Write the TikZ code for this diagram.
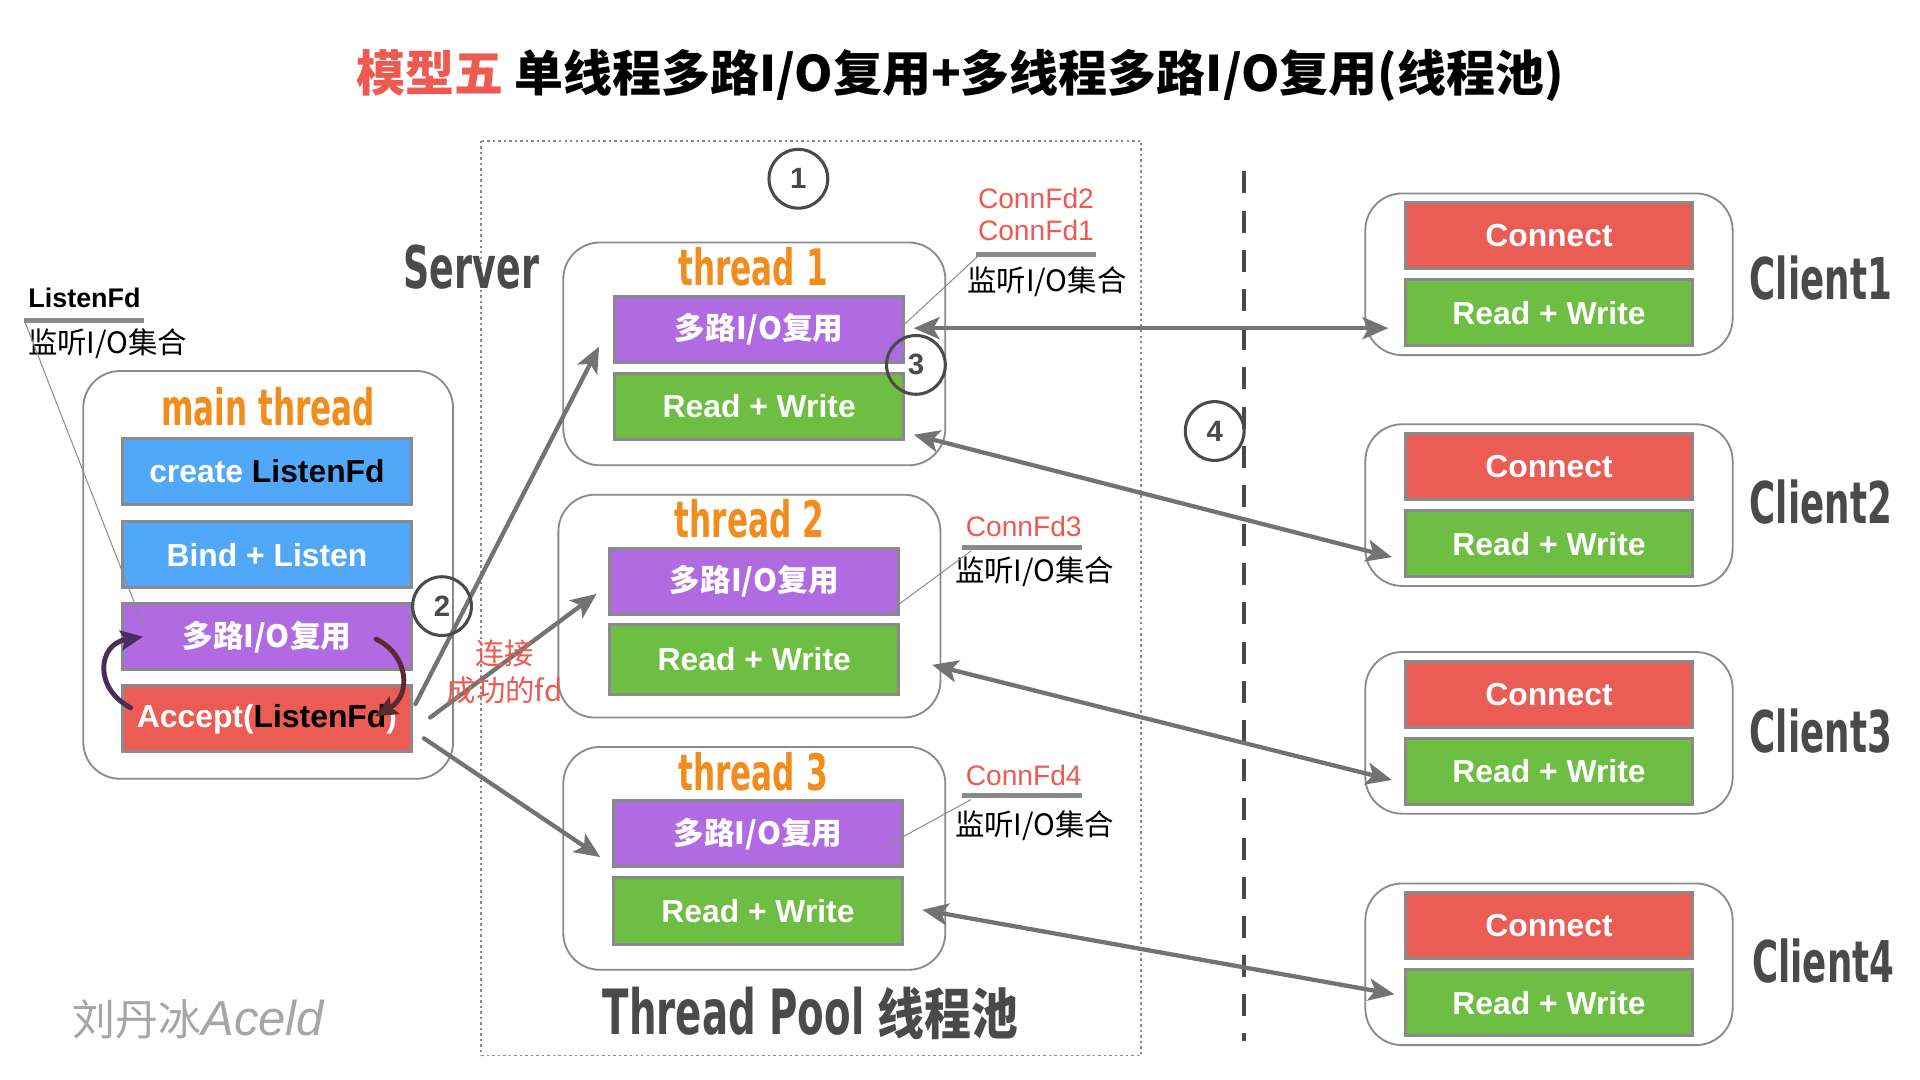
\documentclass[tikz,border=0pt]{standalone}
\usepackage{fontspec}
\setmainfont{Liberation Sans}
\newfontfamily\cjk{Noto Sans CJK SC}
\newfontfamily\hand{DejaVu Sans}[FakeStretch=0.62]
\newfontfamily\handcjk{Noto Sans CJK SC}[FakeStretch=0.85]
\usetikzlibrary{arrows.meta,calc}
\definecolor{cblue}{HTML}{52A8F8}
\definecolor{cpurple}{HTML}{B06AE2}
\definecolor{cred}{HTML}{EB5C55}
\definecolor{cgreen}{HTML}{6EBE44}
\definecolor{corange}{HTML}{F28C1C}
\definecolor{tred}{HTML}{EC5A52}
\definecolor{bgrey}{HTML}{8A8A8A}
\definecolor{agrey}{HTML}{737373}
\definecolor{dgrey}{HTML}{4A4A4A}
\definecolor{curvecol}{HTML}{4A2D5C}
\definecolor{curvecolb}{HTML}{5A2A30}
\tikzset{
  cont/.style={draw=bgrey, line width=1.5pt, rounded corners=30pt, inner sep=0pt},
  box/.style={draw=bgrey, line width=2.5pt, minimum width=236pt, minimum height=54pt, inner sep=0pt, text=white, font=\bfseries\fontsize{26}{30}\selectfont},
  cjkbox/.style={box, fill=cpurple, font=\cjk\bfseries\fontsize{25}{28}\selectfont},
  rwbox/.style={box, fill=cgreen},
  num/.style={circle, draw=dgrey, line width=2.5pt, minimum size=48pt, inner sep=0pt, text=dgrey, font=\bfseries\fontsize{24}{24}\selectfont},
  garrow/.style={draw=agrey, line width=3.5pt, line cap=round, -{Stealth[length=21pt,width=18pt,inset=5pt]}},
  darrow/.style={draw=agrey, line width=3.5pt, {Stealth[length=21pt,width=18pt,inset=5pt]}-{Stealth[length=21pt,width=18pt,inset=5pt]}},
  leader/.style={draw=bgrey, line width=0.8pt},
  fdbar/.style={draw=bgrey, line width=4pt},
  handlbl/.style={font=\hand\bfseries\fontsize{41}{42}\selectfont, text=corange, inner sep=0pt},
  clientlbl/.style={font=\hand\bfseries\fontsize{47}{48}\selectfont, text=dgrey, inner sep=0pt},
  fdtxt/.style={font=\fontsize{23}{26}\selectfont, text=tred, inner sep=0pt},
  settxt/.style={font=\cjk\fontsize{24}{26}\selectfont, text=black, inner sep=0pt},
}
\begin{document}
\begin{tikzpicture}[x=1pt,y=-1pt]
\fill[white] (0,0) rectangle (1568,882);
\useasboundingbox (0,0) rectangle (1568,882);

% title
\node[inner sep=0pt, font=\cjk\bfseries\fontsize{40}{44}\selectfont] (title) at (784,62) {\textcolor{tred}{模型五} 单线程多路I/O复用+多线程多路I/O复用(线程池)};

% thread pool region and separator
\draw[bgrey, line width=1.3pt, dash pattern=on 2pt off 2.5pt] (393,115) rectangle (932,862);
\draw[dgrey, line width=3pt, dash pattern=on 18pt off 14pt] (1016,140) -- (1016,850);

% labels
\node[font=\hand\bfseries\fontsize{48}{50}\selectfont, text=dgrey, inner sep=0pt] (server) at (385,218) {Server};
\node[inner sep=0pt, text=dgrey] (pool) at (662,828) {{\hand\bfseries\fontsize{51}{52}\selectfont Thread Pool }{\handcjk\bfseries\fontsize{45}{50}\selectfont 线程池}};
\node[inner sep=0pt, text=black!35] (wm) at (162,832) {{\cjk\fontsize{35}{36}\selectfont 刘丹冰}{\itshape\fontsize{40}{40}\selectfont Aceld}};

% main thread
\node[cont, minimum width=302pt, minimum height=333pt] (mt) at (219,469.5) {};
\node[handlbl] (mtl) at (219,332) {main thread};
\node[box, fill=cblue] (cl) at (218,385) {create \textcolor{black}{ListenFd}};
\node[box, fill=cblue] (bl) at (218,453) {Bind + Listen};
\node[cjkbox] (mio) at (218,520) {多路I/O复用};
\node[box, fill=cred] (acc) at (218,587) {Accept(\textcolor{black}{ListenFd})};

% ListenFd annotation
\node[inner sep=0pt, font=\bfseries\fontsize{22}{24}\selectfont] (lfd) at (69,243) {ListenFd};
\coordinate (lbarL) at (20,262);
\coordinate (lbarR) at (118,262);
\draw[fdbar] (lbarL) -- (lbarR);
\node[settxt] (lset) at (88,281) {监听I/O集合};
\draw[leader] (lbarL) -- ($(mio.west)+(18,-10)$);

% curved arrows in main thread
\draw[curvecol, line width=4pt, line cap=round, -{Stealth[length=18pt,width=16pt,inset=3pt]}]
  ($(acc.west)+(8,-9)$) .. controls (76,562) and (80,526) .. ($(mio.west)+(18,0)$);
\draw[curvecolb, line width=4pt, line cap=round, -{Stealth[length=18pt,width=16pt,inset=3pt]}]
  ($(mio.east)+(-30,2)$) .. controls (334,535) and (336,568) .. ($(acc.east)+(-31,-2)$);

% threads
\node[cont, minimum width=312pt, minimum height=182pt] (t1) at (616,289) {};
\node[handlbl] (t1l) at (615,218) {thread 1};
\node[cjkbox] (t1p) at (620,269) {多路I/O复用};
\node[rwbox] (t1g) at (620,332) {Read + Write};

\node[cont, minimum width=312pt, minimum height=182pt] (t2) at (612,495) {};
\node[handlbl] (t2l) at (612,424) {thread 2};
\node[cjkbox] (t2p) at (616,475) {多路I/O复用};
\node[rwbox, minimum height=57pt] (t2g) at (616,538.5) {Read + Write};

\node[cont, minimum width=312pt, minimum height=182pt] (t3) at (616,701) {};
\node[handlbl] (t3l) at (615,630) {thread 3};
\node[cjkbox] (t3p) at (619,681) {多路I/O复用};
\node[rwbox] (t3g) at (619,744) {Read + Write};

% ConnFd annotations
\node[fdtxt] (fd2) at (846,162) {ConnFd2};
\node[fdtxt] (fd1) at (846,188) {ConnFd1};
\coordinate (b1L) at (797,208);
\coordinate (b1R) at (895,208);
\draw[fdbar] (b1L) -- (b1R);
\node[settxt] (s1) at (855,230) {监听I/O集合};
\draw[leader] ($(b1L)+(3,0)$) -- ($(t1p.east)+(-3,-2)$);

\node[fdtxt] (fd3) at (836,430) {ConnFd3};
\coordinate (b3L) at (786,447);
\coordinate (b3R) at (884,447);
\draw[fdbar] (b3L) -- (b3R);
\node[settxt] (s3) at (845,467) {监听I/O集合};
\draw[leader] ($(b3L)+(7,3)$) -- ($(t2p.east)+(-10,25)$);

\node[fdtxt] (fd4) at (836,633) {ConnFd4};
\coordinate (b4L) at (786,650);
\coordinate (b4R) at (884,650);
\draw[fdbar] (b4L) -- (b4R);
\node[settxt] (s4) at (845,674) {监听I/O集合};
\draw[leader] ($(b4L)+(7,3)$) -- ($(t3p.east)+(-13,9)$);

% clients
\foreach \i/\y in {1/224,2/412.5,3/598.5,4/787.5}{
  \node[cont, minimum width=300pt, minimum height=132pt] (c\i) at (1265,\y) {};
  \node[box, fill=cred, minimum width=234pt] (c\i c) at (1265,\y-31.5) {Connect};
  \node[rwbox, minimum width=234pt] (c\i rw) at (1265,\y+31.5) {Read + Write};
}
\node[clientlbl] (cl1) at (1487,227) {Client1};
\node[clientlbl] (cl2) at (1487,410) {Client2};
\node[clientlbl] (cl3) at (1487,597) {Client3};
\node[clientlbl] (cl4) at (1489,785) {Client4};

% arrows from Accept to threads
\draw[garrow] ($(acc.east)+(2,-12)$) -- ($(t1.west)+(30,-6)$);
\draw[garrow] ($(acc.east)+(14,-1)$) -- ($(t2.west)+(32,-10)$);
\draw[garrow] ($(acc.east)+(9,16)$) -- ($(t3.west)+(31,-1)$);

\node[inner sep=0pt, text=tred, font=\cjk\fontsize{24}{30}\selectfont, align=center] (conn) at (412,549) {连接\\成功的fd};

% thread <-> client arrows
\draw[darrow] ($(t1p.east)+(7,-1)$) -- ($(c1rw.west)+(-13,12.5)$);
\draw[darrow] ($(t1g.east)+(7,23)$) -- ($(c2rw.west)+(-10,11)$);
\draw[darrow] ($(t2g.east)+(26,4.5)$) -- ($(c3rw.west)+(-10,7)$);
\draw[darrow] ($(t3g.east)+(15,-1)$) -- ($(c4rw.west)+(-8,-7)$);

% numbered circles
\node[num] (n1) at (652,146) {1};
\node[num] (n2) at (361,495) {2};
\node[num] (n3) at (748,298) {3};
\node[num] (n4) at (992,352) {4};
\end{tikzpicture}
\end{document}
